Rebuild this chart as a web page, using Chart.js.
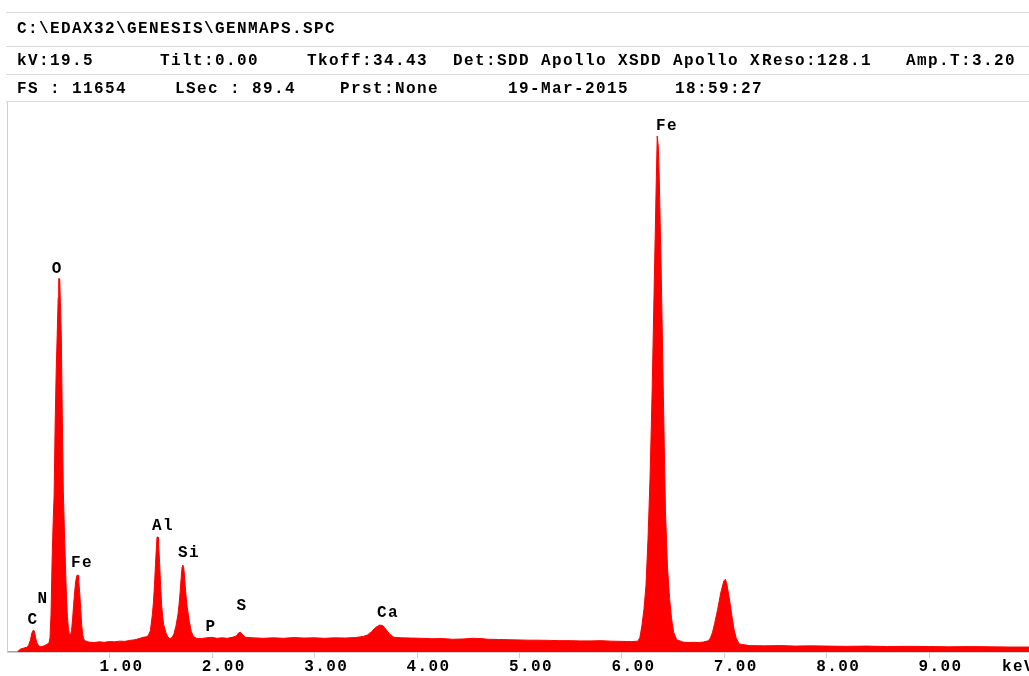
<!DOCTYPE html>
<html>
<head>
<meta charset="utf-8">
<script src="https://cdn.jsdelivr.net/npm/chart.js@4.4.1/dist/chart.umd.min.js"></script>
<style>
  body { margin: 0; background: #fff; }
  #wrap { position: relative; width: 1029px; height: 676px; overflow: hidden; }
  #chart-box { position: absolute; left: 0; top: 0; width: 1029px; height: 676px; }
  .hline { position: absolute; left: 6px; width: 1023px; height: 1px; background: #d9d9d9; }
  .txt { position: absolute; font-family: "Liberation Mono", monospace; font-weight: bold;
         font-size: 16px; letter-spacing: 1.4px; color: #000; white-space: pre; line-height: 16px; }
</style>
</head>
<body>
<div id="wrap">
  <div id="chart-box"><canvas id="spc"></canvas></div>
  <div class="hline" style="top:12px"></div>
  <div class="hline" style="top:46px"></div>
  <div class="hline" style="top:74px"></div>
  <div class="hline" style="top:101px"></div>
  <div class="txt" style="left:17px;top:21px">C:\EDAX32\GENESIS\GENMAPS.SPC</div>
  <div class="txt" style="left:17px;top:53px">kV:19.5</div>
  <div class="txt" style="left:160px;top:53px">Tilt:0.00</div>
  <div class="txt" style="left:307px;top:53px">Tkoff:34.43</div>
  <div class="txt" style="left:453px;top:53px">Det:SDD Apollo XSDD Apollo X</div>
  <div class="txt" style="left:762px;top:53px">Reso:128.1</div>
  <div class="txt" style="left:906px;top:53px">Amp.T:3.20</div>
  <div class="txt" style="left:17px;top:81px">FS : 11654</div>
  <div class="txt" style="left:175px;top:81px">LSec : 89.4</div>
  <div class="txt" style="left:340px;top:81px">Prst:None</div>
  <div class="txt" style="left:508px;top:81px">19-Mar-2015</div>
  <div class="txt" style="left:675px;top:81px">18:59:27</div>
</div>
<script>
// spectrum: energy (keV) and counts
const energies = [
  0.00, 0.10, 0.11, 0.13, 0.16, 0.19, 0.21, 0.23, 0.24, 0.25, 0.26, 0.27, 0.28, 0.29, 0.31, 0.33, 0.35, 0.37, 0.39, 0.41,
  0.42, 0.43, 0.44, 0.45, 0.46, 0.47, 0.48, 0.49, 0.50, 0.505, 0.515, 0.52, 0.53, 0.54, 0.55, 0.56, 0.57, 0.58, 0.59, 0.60, 0.61,
  0.62, 0.63, 0.64, 0.65, 0.66, 0.67, 0.68, 0.685, 0.695, 0.70, 0.71, 0.72, 0.73, 0.74, 0.75, 0.77,
  0.80, 0.85, 0.90, 0.95, 1.00, 1.05, 1.10, 1.15, 1.20, 1.25, 1.30, 1.33, 1.36,
  1.38, 1.40, 1.42, 1.43, 1.44, 1.45, 1.46, 1.465, 1.475, 1.48, 1.49, 1.50, 1.51, 1.52, 1.53, 1.55, 1.57, 1.59,
  1.61, 1.63, 1.65, 1.67, 1.68, 1.69, 1.70, 1.71, 1.715, 1.725, 1.73, 1.74, 1.75, 1.76, 1.78, 1.80, 1.82, 1.85,
  1.90, 1.95, 2.00, 2.05, 2.10, 2.15, 2.20, 2.24, 2.26, 2.28, 2.30, 2.33,
  2.40, 2.50, 2.60, 2.70, 2.80, 2.90, 3.00, 3.10, 3.20, 3.30, 3.40, 3.48,
  3.52, 3.56, 3.60, 3.64, 3.67, 3.70, 3.74, 3.78,
  3.85, 3.95, 4.05, 4.15, 4.25, 4.35, 4.45, 4.55, 4.62, 4.70, 4.80, 4.90, 5.00, 5.10, 5.20, 5.30, 5.40, 5.50,
  5.60, 5.70, 5.80, 5.90, 6.00, 6.10, 6.16,
  6.18, 6.20, 6.22, 6.24, 6.26, 6.28, 6.30, 6.32, 6.33, 6.34, 6.35, 6.36, 6.37, 6.39, 6.41, 6.43, 6.45, 6.47, 6.49, 6.51, 6.54,
  6.60, 6.65, 6.70, 6.75, 6.80, 6.85,
  6.87, 6.89, 6.91, 6.94, 6.97, 7.00, 7.015, 7.03, 7.06, 7.08, 7.10, 7.12, 7.15,
  7.25, 7.40, 7.55, 7.70, 7.85, 8.00, 8.20, 8.40, 8.60, 8.80, 9.00, 9.20, 9.40, 9.60, 9.80, 10.00
];
const counts = [
  0, 0, 20, 60, 80, 100, 140, 260, 380, 440, 465, 420, 300, 200, 130, 110, 120, 140, 160, 190,
  300, 800, 1900, 2700, 3300, 4800, 5900, 6700, 7500, 7895, 7895, 7500, 6700, 5000, 3400, 2600, 1900, 1200, 750, 480, 360,
  360, 450, 680, 980, 1250, 1480, 1600, 1625, 1625, 1520, 1250, 900, 560, 360, 270, 230,
  210, 200, 215, 205, 220, 215, 230, 225, 245, 260, 290, 310, 320,
  350, 450, 800, 1050, 1400, 1850, 2250, 2430, 2430, 2300, 1900, 1400, 1000, 750, 580, 420, 320, 285,
  300, 380, 550, 800, 1000, 1250, 1550, 1800, 1840, 1800, 1700, 1400, 1150, 950, 650, 430, 330, 290,
  285, 300, 310, 290, 300, 290, 310, 340, 400, 420, 370, 310,
  300, 290, 300, 290, 305, 295, 300, 290, 300, 295, 305, 330,
  360, 430, 520, 570, 560, 480, 370, 310,
  300, 295, 290, 280, 285, 270, 275, 290, 285, 270, 265, 260, 255, 250, 250, 245, 240, 240,
  235, 235, 240, 230, 225, 220, 230,
  300, 550, 900, 1400, 2400, 3700, 5500, 7700, 8800, 9900, 10915, 10700, 10000, 7900, 5400, 3000, 1800, 1150, 700, 420, 260,
  210, 200, 205, 200, 210, 240,
  300, 420, 600, 900, 1250, 1500, 1540, 1440, 1050, 750, 480, 300, 170,
  135, 130, 135, 125, 130, 125, 120, 125, 115, 120, 115, 110, 115, 110, 105, 105
];
const fullScale = 11654;
const xTicks = [1, 2, 3, 4, 5, 6, 7, 8, 9];

// element labels: name, energy (keV), counts where the label sits
const peakNames = ["C", "N", "O", "Fe", "Al", "Si", "P", "S", "Ca", "Fe"];
const peakEnergies = [0.244, 0.342, 0.48, 0.723, 1.514, 1.768, 1.982, 2.285, 3.711, 6.435];
const peakCounts = [675, 1119, 8106, 1879, 2660, 2090, 528, 971, 823, 11125];

const FONT = 'bold 16px "Liberation Mono", monospace';

const spcPlugin = {
  id: "spcDecor",
  afterDraw(chart) {
    const ctx = chart.ctx;
    const xs = chart.scales.x;
    const ys = chart.scales.y;
    const area = chart.chartArea;
    ctx.save();
    // frame: left edge and energy axis
    ctx.strokeStyle = "#cfcfcf";
    ctx.lineWidth = 1;
    ctx.beginPath();
    ctx.moveTo(area.left + 0.5, area.top);
    ctx.lineTo(area.left + 0.5, area.bottom + 1);
    ctx.moveTo(area.left, area.bottom + 0.5);
    ctx.lineTo(area.right, area.bottom + 0.5);
    xTicks.forEach((v) => {
      const px = Math.round(xs.getPixelForValue(v)) + 0.5;
      ctx.moveTo(px, area.bottom + 1);
      ctx.lineTo(px, area.bottom + 6);
    });
    ctx.stroke();

    ctx.font = FONT;
    ctx.letterSpacing = "1.4px";
    ctx.fillStyle = "#000";
    ctx.textBaseline = "middle";
    ctx.textAlign = "center";
    xTicks.forEach((v) => {
      ctx.fillText(v.toFixed(2), xs.getPixelForValue(v) + 12, area.bottom + 15);
    });
    ctx.textAlign = "left";
    ctx.fillText("keV", xs.getPixelForValue(10) - 29, area.bottom + 15);

    ctx.textAlign = "center";
    peakNames.forEach((n, i) => {
      ctx.fillText(n, xs.getPixelForValue(peakEnergies[i]) + 1, ys.getPixelForValue(peakCounts[i]));
    });
    ctx.restore();
  },
};

new Chart(document.getElementById("spc").getContext("2d"), {
  type: "line",
  data: {
    datasets: [
      {
        data: energies.map((e, i) => ({ x: e, y: counts[i] })),
        borderColor: "#ff0000",
        backgroundColor: "#ff0000",
        borderWidth: 1,
        fill: "origin",
        pointRadius: 0,
        tension: 0,
      },
    ],
  },
  options: {
    responsive: true,
    maintainAspectRatio: false,
    animation: false,
    events: [],
    layout: { padding: { left: 7, top: 101, right: 0, bottom: 24 } },
    plugins: { legend: { display: false }, tooltip: { enabled: false } },
    scales: {
      x: { type: "linear", min: 0, max: 1022 / 102.4, display: false },
      y: { min: 0, max: fullScale, display: false },
    },
  },
  plugins: [spcPlugin],
});
</script>
</body>
</html>
